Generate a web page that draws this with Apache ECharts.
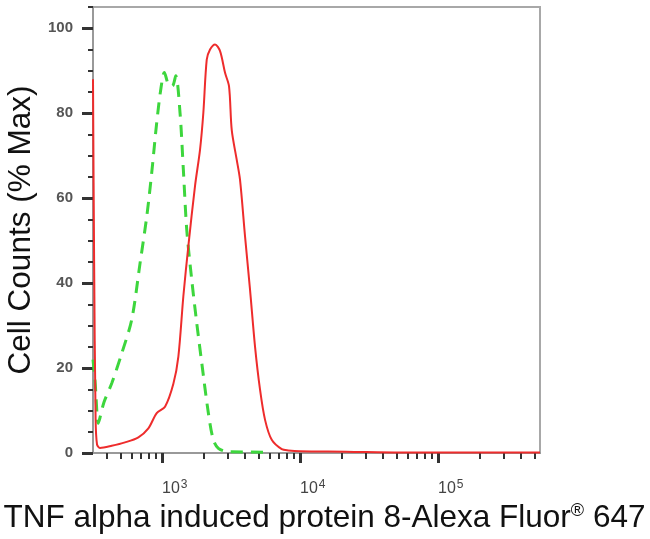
<!DOCTYPE html>
<html>
<head>
<meta charset="utf-8">
<script src="https://cdn.jsdelivr.net/npm/echarts@6/dist/echarts.min.js"></script>
<style>
html,body{margin:0;padding:0;background:#fff;}
#chart{width:650px;height:539px;}
</style>
</head>
<body>
<div id="chart"></div>
<script>
// Fluorescence intensity (linear units) and cell counts (% of max)
const redIntensity = [316, 322, 330, 338, 355, 432, 539, 674, 796, 915, 1051, 1208, 1313, 1427, 1551, 1734, 1886, 1992, 2108, 2227, 2422, 2633, 2861, 3058, 3200, 3478, 3674, 3994, 4342, 4720, 5130, 5577, 6235, 7370, 8226, 10000, 21540, 53040, 548000];
const redCounts    = [88, 45, 8, 2, 1.2, 1.7, 2.5, 3.7, 5.8, 9.4, 10.9, 16.3, 22.7, 36.9, 48.7, 62.9, 71.5, 80.1, 92.6, 95, 96.2, 94.6, 89.5, 86.3, 76, 69, 64.3, 51, 38.4, 25, 14.9, 7.8, 3.1, 0.9, 0.6, 0.4, 0.3, 0.1, 0.1];

const greenIntensity = [316, 327, 345, 355, 380, 432, 511, 603, 693, 775, 842, 915, 983, 1039, 1111, 1187, 1257, 1350, 1427, 1510, 1641, 1784, 1940, 2166, 2353, 2559, 3023, 6063];
const greenCounts    = [22, 17, 7, 8.3, 12, 16.4, 23.5, 31.4, 44.7, 55.7, 66, 77.8, 86, 89.6, 86.8, 86.4, 88.8, 80.1, 66.7, 52.6, 40.8, 30.6, 21.2, 9.4, 3.1, 1.1, 0.3, 0.2];

const xMajorTicks = [1000, 10000, 100000];
const xMinorTicks = [400, 500, 600, 700, 800, 900, 2000, 3000, 4000, 5000, 6000, 7000, 8000, 9000,
                     20000, 30000, 40000, 50000, 60000, 70000, 80000, 90000, 200000, 300000, 400000, 500000];
const yMajorTicks = [0, 20, 40, 60, 80, 100];
const yMinorTicks = [5, 10, 15, 25, 30, 35, 45, 50, 55, 65, 70, 75, 85, 90, 95, 105];

const xTitle = 'TNF alpha induced protein 8-Alexa Fluor';
const xTitleMark = '®';
const xTitleEnd = ' 647';
const yTitle = 'Cell Counts (% Max)';

const X_MIN = 316, X_MAX = 548000, Y_MIN = 0, Y_MAX = 105;

const chart = echarts.init(document.getElementById('chart'), null, {renderer: 'canvas'});

function pairs(xs, ys) { return xs.map((x, i) => [x, ys[i]]); }

const tickColor = '#333';
const titleFont = 'Liberation Sans, Arial, sans-serif';
const narrowFont = 'Liberation Sans Narrow, Arial Narrow, Liberation Sans, sans-serif';
const option = {
  backgroundColor: '#fff',
  animation: false,
  grid: {left: 93, right: 110, top: 7, bottom: 86, show: true, borderColor: '#a8a8a8', borderWidth: 2,
         backgroundColor: 'transparent', containLabel: false, outerBoundsMode: 'none'},
  xAxis: [
    {
      type: 'log', logBase: 10, min: X_MIN, max: X_MAX, position: 'bottom',
      name: '{a|' + xTitle + '}{r|' + xTitleMark + '}{a|' + xTitleEnd + '}',
      nameLocation: 'middle', nameGap: 46,
      nameTextStyle: {
        padding: [0, 0, 0, 16],
        rich: {
          a: {fontFamily: titleFont, fontSize: 31.5, color: '#111'},
          r: {fontFamily: titleFont, fontSize: 18, color: '#111', verticalAlign: 'bottom', padding: [0, 0, 14, 0]}
        }
      },
      axisLine: {show: true, lineStyle: {color: '#999', width: 2}},
      axisTick: {show: true, customValues: xMajorTicks, length: 10, lineStyle: {color: tickColor, width: 3}},
      splitLine: {show: false},
      minorTick: {show: false},
      axisLabel: {
        customValues: xMajorTicks, margin: 26, align: 'left',
        formatter: function (v) { return '{b|10}{s|' + Math.round(Math.log10(v)) + '}'; },
        rich: {
          b: {fontFamily: narrowFont, fontSize: 16, color: '#444'},
          s: {fontFamily: narrowFont, fontSize: 12, color: '#444', verticalAlign: 'bottom', padding: [0, 0, 8, 1]}
        }
      }
    },
    {
      type: 'log', logBase: 10, min: X_MIN, max: X_MAX, position: 'bottom',
      axisLine: {show: false},
      axisTick: {show: true, customValues: xMinorTicks, length: 6, lineStyle: {color: tickColor, width: 2}},
      axisLabel: {show: false},
      splitLine: {show: false}
    }
  ],
  yAxis: [
    {
      type: 'value', min: Y_MIN, max: Y_MAX, position: 'left',
      name: yTitle, nameLocation: 'middle', nameRotate: 90, nameGap: 46,
      nameTextStyle: {fontFamily: titleFont, fontSize: 31.5, color: '#111'},
      axisLine: {show: true, lineStyle: {color: '#999', width: 2}},
      axisTick: {show: true, customValues: yMajorTicks, length: 11, lineStyle: {color: tickColor, width: 3}},
      axisLabel: {customValues: yMajorTicks, margin: 20, fontFamily: titleFont, fontSize: 15, fontWeight: 'bold', color: '#555'},
      splitLine: {show: false}
    },
    {
      type: 'value', min: Y_MIN, max: Y_MAX, position: 'left',
      axisLine: {show: false},
      axisTick: {show: true, customValues: yMinorTicks, length: 5, lineStyle: {color: tickColor, width: 2}},
      axisLabel: {show: false},
      splitLine: {show: false}
    }
  ],
  series: [
    {
      name: 'Control', type: 'line', xAxisIndex: 0, yAxisIndex: 0,
      data: pairs(greenIntensity, greenCounts), showSymbol: false, smooth: 0.3,
      lineStyle: {color: '#3dd63d', width: 3, type: [12, 8]}, z: 3
    },
    {
      name: 'Sample', type: 'line', xAxisIndex: 0, yAxisIndex: 0,
      data: pairs(redIntensity, redCounts), showSymbol: false, smooth: 0.3,
      lineStyle: {color: '#ee2c2c', width: 2}, z: 4
    }
  ]
};
chart.setOption(option);
</script>
</body>
</html>
